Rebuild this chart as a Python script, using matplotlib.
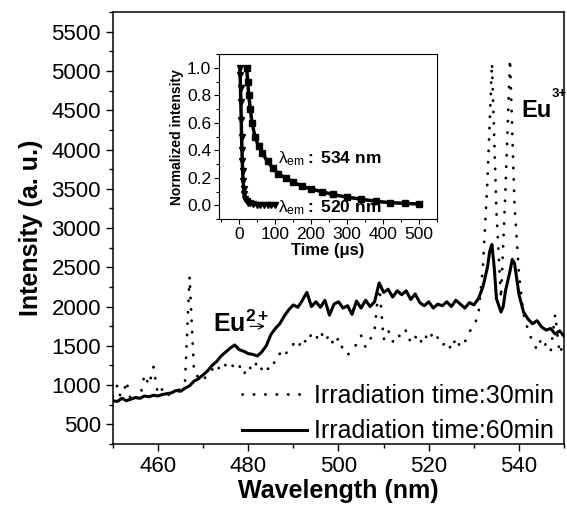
import numpy as np
import matplotlib
matplotlib.use("Agg")
import matplotlib.pyplot as plt
from matplotlib.ticker import MultipleLocator

plt.rcParams['font.family'] = ['Liberation Sans', 'DejaVu Sans']
plt.rcParams['mathtext.fontset'] = 'custom'
plt.rcParams['mathtext.rm'] = 'Liberation Sans'
plt.rcParams['mathtext.bf'] = 'Liberation Sans:bold'
plt.rcParams['mathtext.it'] = 'Liberation Sans:italic'

# ---- espectro de emision, 60 min (linea continua) ----
wl_60 = [450, 451, 452, 453, 454, 455, 456, 457, 458, 459,
         460, 461, 462, 463, 464, 465, 466, 467, 468, 469,
         470, 471, 472, 473, 474, 475, 476, 477, 478, 479,
         480, 481, 482, 483, 484, 485, 486, 487, 488, 489,
         490, 491, 492, 493, 494, 495, 496, 497, 498, 499,
         500, 501, 502, 503, 504, 505, 506, 507, 508, 509,
         510, 511, 512, 513, 514, 515, 516, 517, 518, 519,
         520, 521, 522, 523, 524, 525, 526, 527, 528, 529,
         530, 531, 532, 533, 533.5, 534, 534.5, 535, 536, 536.5,
         537, 538, 538.5, 539, 540, 541, 542, 543, 544, 545,
         546, 547, 548, 549, 550]
int_60 = [800, 790, 830, 800, 820, 840, 830, 860, 850, 870,
          860, 880, 890, 900, 930, 920, 960, 990, 1050, 1080,
          1130, 1180, 1250, 1300, 1370, 1420, 1470, 1510, 1450, 1430,
          1400, 1390, 1370, 1420, 1500, 1640, 1720, 1780, 1880, 1960,
          2020, 1990, 2080, 2180, 2000, 2060, 1990, 2080, 1890, 2030,
          2060, 1980, 2010, 1900, 2070, 1980, 2080, 2000, 2060, 2300,
          2180, 2220, 2120, 2200, 2150, 2200, 2090, 2160, 2050, 2010,
          2060, 1980, 2030, 2010, 2060, 2000, 2080, 2030, 1980, 2050,
          2020, 2100, 2250, 2500, 2700, 2790, 2500, 2100, 1930, 2000,
          2200, 2450, 2600, 2550, 2150, 1930, 1840, 1780, 1820, 1740,
          1700, 1720, 1650, 1690, 1620]

# ---- espectro de emision, 30 min (linea punteada) ----
wl_30 = list(range(450, 551))
int_30 = [850, 1000, 780, 1050, 800, 850, 830, 1130, 1000, 1230,
          880, 950, 860, 900, 920, 950, 1050, 2380, 1150, 1100,
          1050, 1150, 1200, 1150, 1290, 1250, 1300, 1200, 1250, 1130,
          1250, 1180, 1300, 1200, 1150, 1300, 1280, 1400, 1350, 1480,
          1520, 1460, 1600, 1530, 1650, 1580, 1690, 1560, 1640, 1500,
          1600, 1450, 1380, 1450, 1520, 1630, 1480, 1580, 1700, 2300,
          1580, 1700, 1550, 1650, 1600, 1700, 1540, 1620, 1520, 1650,
          1560, 1680, 1600, 1500, 1560, 1450, 1600, 1480, 1550, 1680,
          1750, 1900, 2500, 3600, 5100, 3200, 2100, 3500, 5150, 3300,
          2400, 1900, 1700, 1550, 1450, 1600, 1500, 1420, 1900, 1400,
          1550]

# ---- curvas de decaimiento (inset) ----
t_534 = [22, 25, 28, 32, 37, 45, 55, 65, 80, 95, 110, 130, 150, 175,
         200, 230, 260, 300, 340, 380, 420, 460, 500]
v_534 = [1.0, 0.9, 0.8, 0.7, 0.6, 0.5, 0.43, 0.38, 0.32, 0.27, 0.23,
         0.2, 0.17, 0.14, 0.12, 0.1, 0.08, 0.06, 0.045, 0.03, 0.02,
         0.015, 0.01]
t_520 = [3, 4, 5, 6, 7, 8, 9, 10, 11, 12, 14, 16, 18, 22, 26, 30, 40,
         50, 60, 70, 80, 90, 100]
v_520 = [1.0, 0.95, 0.85, 0.75, 0.62, 0.5, 0.4, 0.32, 0.25, 0.18, 0.12,
         0.08, 0.05, 0.03, 0.02, 0.015, 0.01, 0.005, 0.005, 0.005, 0.005,
         0.005, 0.005]

fig = plt.figure(figsize=(5.67, 5.05), dpi=100)
ax = fig.add_axes([0.199, 0.121, 0.796, 0.855])

ax.plot(wl_30, int_30, color='black', lw=2.0, linestyle=(0, (0.1, 4.0)),
        dash_capstyle='round', label='Irradiation time:30min')
ax.plot(wl_60, int_60, color='black', lw=2.2, label='Irradiation time:60min')

ax.set_xlim(450, 550)
ax.set_ylim(250, 5750)
ax.xaxis.set_major_locator(MultipleLocator(20))
ax.xaxis.set_minor_locator(MultipleLocator(10))
ax.yaxis.set_major_locator(MultipleLocator(500))
ax.yaxis.set_minor_locator(MultipleLocator(250))
ax.tick_params(which='both', direction='out', width=1, labelsize=16)
ax.tick_params(which='major', length=5)
ax.tick_params(which='minor', length=3)
for s in ax.spines.values():
    s.set_linewidth(1.1)
ax.set_xlabel('Wavelength (nm)', fontsize=18, fontweight='bold', labelpad=2)
ax.set_ylabel('Intensity (a. u.)', fontsize=18, fontweight='bold', labelpad=6)

ax.legend(loc='lower right', frameon=False, fontsize=18, handlelength=2.6,
          handletextpad=0.3, labelspacing=0.45, borderaxespad=0.0,
          bbox_to_anchor=(1.0, -0.022))

# Eu3+ : texto y superindice por separado para que no se salga
ax.text(540.5, 4418, 'Eu', fontsize=17, fontweight='bold')
ax.text(547.2, 4672, '3+', fontsize=9.5, fontweight='bold')
ax.text(472.2, 1670, r'$\mathbf{Eu^{2+}}$', fontsize=18)
ax.annotate('', xy=(484.3, 1747), xytext=(479.8, 1747),
            arrowprops=dict(arrowstyle='->', lw=0.8, color='black'))

# ---- inset ----
ins = fig.add_axes([0.386, 0.566, 0.385, 0.327])
ins.plot(t_534, v_534, color='black', lw=2.5, marker='s', ms=4)
ins.plot(t_520, v_520, color='black', lw=2.5, marker='v', ms=4)
ins.set_xlim(-55, 550)
ins.set_ylim(-0.1, 1.1)
ins.xaxis.set_major_locator(MultipleLocator(100))
ins.xaxis.set_minor_locator(MultipleLocator(50))
ins.yaxis.set_major_locator(MultipleLocator(0.2))
ins.yaxis.set_minor_locator(MultipleLocator(0.1))
ins.tick_params(which='both', direction='out', width=0.8, labelsize=12.5, pad=2)
ins.tick_params(which='major', length=3.5)
ins.tick_params(which='minor', length=2)
ins.set_xlabel('Time (\u03bcs)', fontsize=12, fontweight='bold', labelpad=1)
ins.set_ylabel('Normalized intensity', fontsize=10, fontweight='bold', labelpad=2)
ins.text(108, 0.34, '$\\mathrm{\u03bb}_{\\mathrm{em}}\\mathbf{:\\ 534\\ nm}$',
         fontsize=12.5, va='center')
ins.text(108, -0.015, '$\\mathrm{\u03bb}_{\\mathrm{em}}\\mathbf{:\\ 520\\ nm}$',
         fontsize=12.5, va='center')

fig.savefig('out.png', dpi=100)
